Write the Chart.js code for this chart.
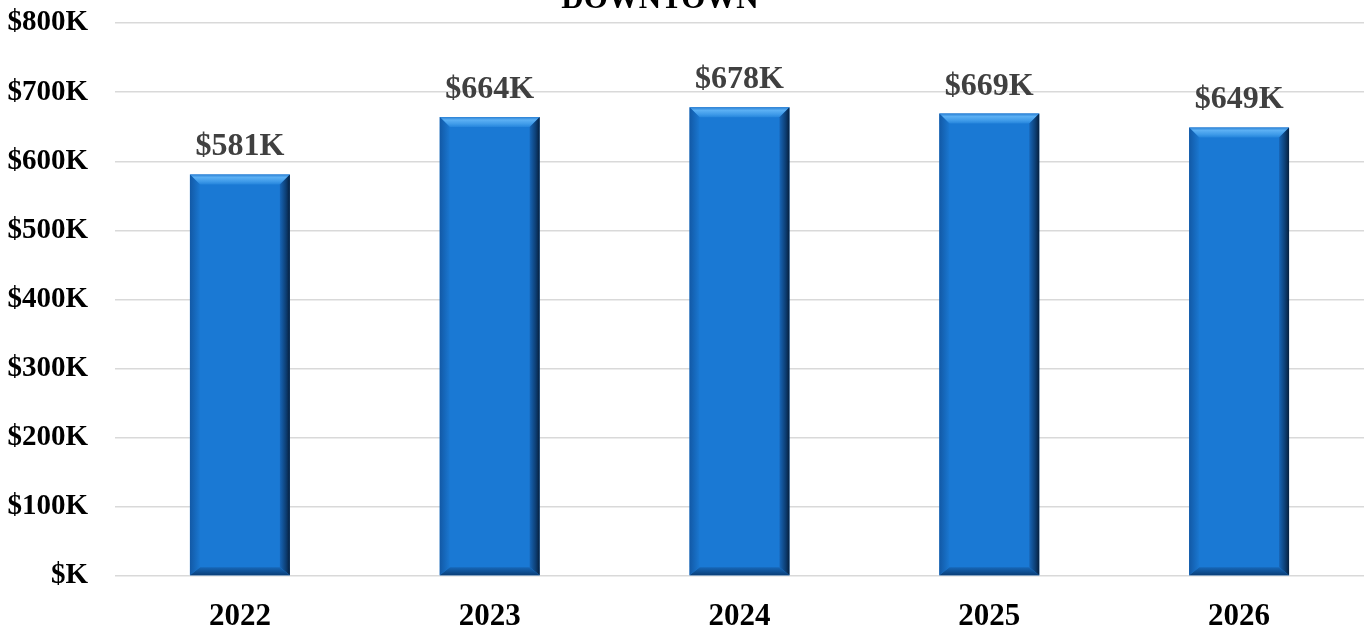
<!DOCTYPE html>
<html>
<head>
<meta charset="utf-8">
<script src="https://cdn.jsdelivr.net/npm/chart.js@4"></script>
<style>
  html, body { margin: 0; padding: 0; background: #fff; }
  #wrap { width: 1365px; height: 626px; }
</style>
</head>
<body>
<div id="wrap"><canvas id="c" width="1365" height="626"></canvas></div>
<script>
const categories = ["2022", "2023", "2024", "2025", "2026"];
const values = [581, 664, 678, 669, 649];
const yTicks = [0, 100, 200, 300, 400, 500, 600, 700, 800];
const chartTitle = "DOWNTOWN";

const serif = "'Liberation Serif', 'Times New Roman', serif";

const bevelPlugin = {
  id: 'bevel',
  afterDatasetsDraw(chart) {
    const ctx = chart.ctx;
    const meta = chart.getDatasetMeta(0);
    meta.data.forEach((bar) => {
      const w = bar.width;
      const l = bar.x - w / 2, r = bar.x + w / 2;
      const t = bar.y, b = bar.base;
      const bv = 10;
      ctx.save();
      // top bevel
      let g = ctx.createLinearGradient(0, t, 0, t + bv);
      g.addColorStop(0, '#2a80d4');
      g.addColorStop(0.3, '#5cb0f4');
      g.addColorStop(0.7, '#3f9be9');
      g.addColorStop(1, '#2585dc');
      ctx.fillStyle = g;
      ctx.beginPath();
      ctx.moveTo(l, t); ctx.lineTo(r, t); ctx.lineTo(r - bv, t + bv); ctx.lineTo(l + bv, t + bv); ctx.closePath();
      ctx.fill();
      // right bevel
      g = ctx.createLinearGradient(r - bv, 0, r, 0);
      g.addColorStop(0, '#1766b8');
      g.addColorStop(0.6, '#0d3f75');
      g.addColorStop(1, '#061f3d');
      ctx.fillStyle = g;
      ctx.beginPath();
      ctx.moveTo(r, t); ctx.lineTo(r, b); ctx.lineTo(r - bv, b - bv * 0.8); ctx.lineTo(r - bv, t + bv); ctx.closePath();
      ctx.fill();
      // bottom bevel
      g = ctx.createLinearGradient(0, b - bv * 0.8, 0, b);
      g.addColorStop(0, '#1667b8');
      g.addColorStop(1, '#0b3f78');
      ctx.fillStyle = g;
      ctx.beginPath();
      ctx.moveTo(l, b); ctx.lineTo(r, b); ctx.lineTo(r - bv, b - bv * 0.8); ctx.lineTo(l + bv, b - bv * 0.8); ctx.closePath();
      ctx.fill();
      // left bevel
      g = ctx.createLinearGradient(l, 0, l + bv, 0);
      g.addColorStop(0, '#1259a6');
      g.addColorStop(1, '#1a77d0');
      ctx.fillStyle = g;
      ctx.beginPath();
      ctx.moveTo(l, t); ctx.lineTo(l + bv, t + bv); ctx.lineTo(l + bv, b - bv * 0.8); ctx.lineTo(l, b); ctx.closePath();
      ctx.fill();
      ctx.restore();
    });
  }
};

const labelPlugin = {
  id: 'valueLabels',
  afterDatasetsDraw(chart) {
    const ctx = chart.ctx;
    const meta = chart.getDatasetMeta(0);
    ctx.save();
    ctx.font = "bold 32px " + serif;
    ctx.fillStyle = '#404040';
    ctx.textAlign = 'center';
    ctx.textBaseline = 'alphabetic';
    meta.data.forEach((bar, i) => {
      ctx.fillText('$' + values[i] + 'K', bar.x, bar.y - 19);
    });
    ctx.restore();
  }
};

const titlePlugin = {
  id: 'topTitle',
  afterDraw(chart) {
    const ctx = chart.ctx;
    ctx.save();
    ctx.font = "bold 31px " + serif;
    ctx.fillStyle = '#000000';
    ctx.textAlign = 'center';
    ctx.textBaseline = 'alphabetic';
    ctx.fillText(chartTitle, 660, 8);
    ctx.restore();
  }
};

new Chart(document.getElementById('c'), {
  type: 'bar',
  data: {
    labels: categories,
    datasets: [{
      data: values,
      backgroundColor: '#1a79d4',
      borderWidth: 0,
      barPercentage: 0.4,
      categoryPercentage: 1.0
    }]
  },
  options: {
    responsive: false,
    animation: false,
    layout: { padding: { top: 23, right: 1, left: 0, bottom: 0 } },
    plugins: {
      legend: { display: false },
      tooltip: { enabled: false },
      title: { display: false }
    },
    scales: {
      x: {
        grid: { display: false, drawTicks: false },
        border: { display: false },
        ticks: {
          color: '#000',
          font: { family: serif, size: 31, weight: 'bold' },
          padding: 22,
          maxRotation: 0
        },
        afterFit(scale) { scale.height = 50; scale.paddingLeft = 0; scale.paddingRight = 0; }
      },
      y: {
        min: 0,
        max: 800,
        afterBuildTicks(scale) { scale.ticks = yTicks.map(v => ({ value: v })); },
        grid: { color: '#d9d9d9', lineWidth: 1.5, drawTicks: false },
        border: { display: false },
        ticks: {
          color: '#000',
          font: { family: serif, size: 29, weight: 'bold' },
          padding: 27,
          callback: (v) => '$' + (v === 0 ? '' : v) + 'K'
        },
        afterFit(scale) { scale.width = 115; scale.paddingTop = 0; scale.paddingBottom = 0; }
      }
    }
  },
  plugins: [bevelPlugin, labelPlugin, titlePlugin]
});
</script>
</body>
</html>
